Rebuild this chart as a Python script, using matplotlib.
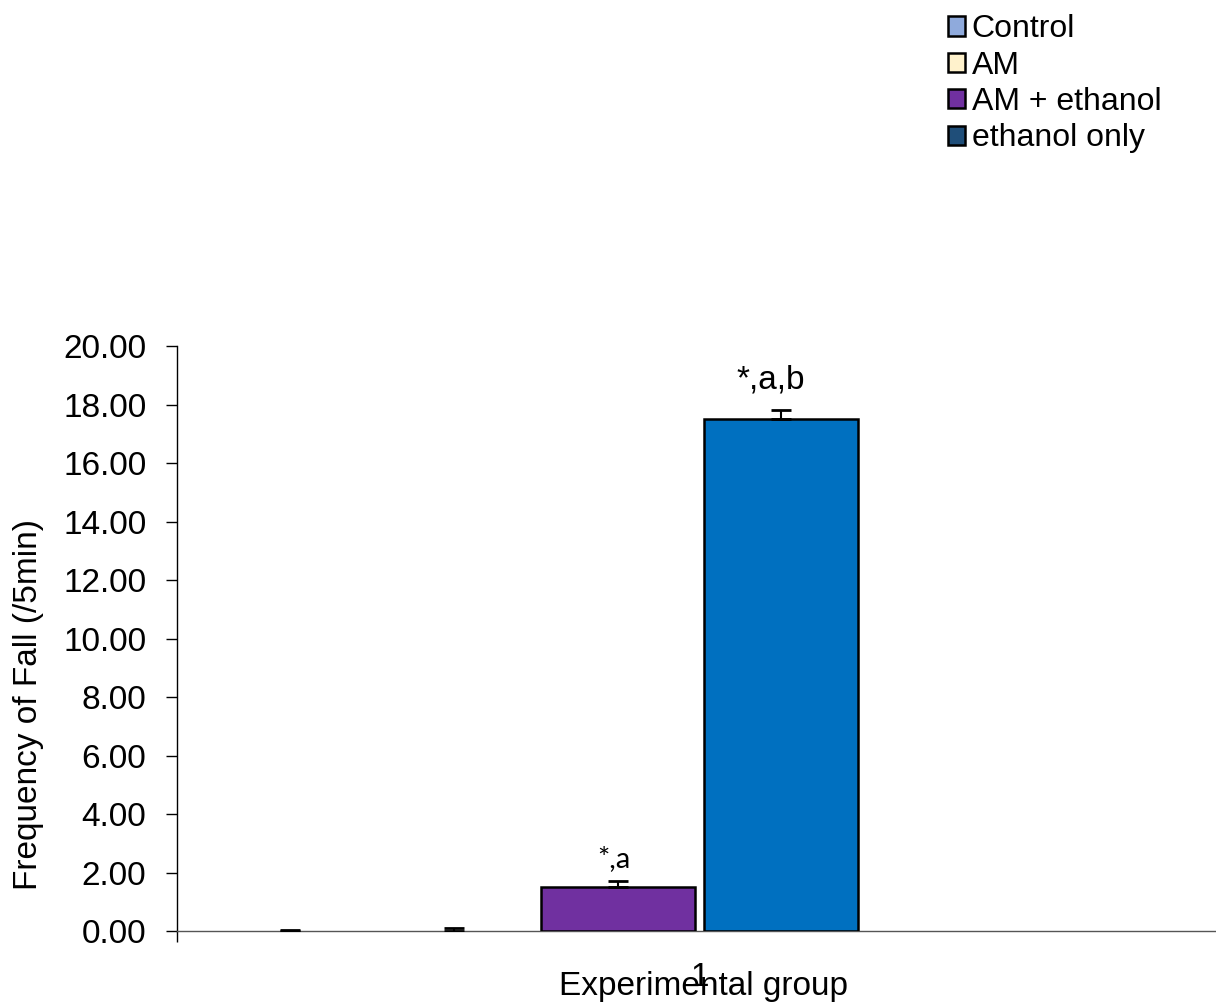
import matplotlib.pyplot as plt
from matplotlib.patches import Patch

# groups, means and SEMs
groups = ["Control", "AM", "AM + ethanol", "ethanol only"]
means = [0.0, 0.0, 1.5, 17.5]
errors = [0.03, 0.1, 0.2, 0.3]
bar_colors = ["#8FAADC", "#FFF2CC", "#7030A0", "#0070C0"]
legend_colors = ["#8FAADC", "#FFF2CC", "#7030A0", "#1F4E79"]
sig_labels = ["", "", "*,a", "*,a,b"]
yticks = [0, 2, 4, 6, 8, 10, 12, 14, 16, 18, 20]

plt.rcParams["font.family"] = ["Liberation Sans", "DejaVu Sans"]

fig = plt.figure(figsize=(12.16, 10.05), dpi=100)
ax = fig.add_axes([0.1456, 0.0736, 0.8544, 0.582])

xpos = list(range(len(groups)))
# empty bars get no outline so only the axis line shows at zero
edge_w = [1.8 if m > 0 else 0 for m in means]
ax.bar(xpos, means, width=0.94, color=bar_colors, edgecolor="black", linewidth=edge_w,
       zorder=3)
# upper-only error bars
ax.errorbar(xpos, means, yerr=[[0] * len(errors), errors], fmt="none", ecolor="black",
            elinewidth=1.5, capsize=7, capthick=2, zorder=4)

# significance markers above the bars
for x, m, e, s in zip(xpos, means, errors, sig_labels):
    if not s:
        continue
    if s == "*,a":
        ax.annotate(s, (x, m + e), xytext=(-3, 7), textcoords="offset points",
                    ha="center", va="bottom", fontsize=21, family=["Lato", "DejaVu Sans"])
    else:
        ax.annotate(s, (x, m + e), xytext=(-8, 11), textcoords="offset points",
                    ha="center", va="bottom", fontsize=24)

ax.set_xlim(-0.689, 5.652)
ax.set_ylim(0, 20)
ax.set_yticks(yticks)
ax.set_yticklabels([f"{v:.2f}" for v in yticks], fontsize=24)
ax.tick_params(axis="y", length=8, width=1, direction="out", pad=14)

# category tick: boundary mark on the left, label "1" in the middle
ax.set_xticks([-0.689])
ax.set_xticklabels([""])
ax.tick_params(axis="x", which="major", length=8, width=1, direction="out")
ax.set_xticks([2.5], minor=True)
ax.set_xticklabels(["1"], minor=True, fontsize=24)
ax.tick_params(axis="x", which="minor", length=0, pad=22)

for side in ["top", "right"]:
    ax.spines[side].set_visible(False)
ax.spines["left"].set_linewidth(1)
ax.spines["bottom"].set_linewidth(1)
ax.spines["bottom"].set_color("#555555")

ax.set_ylabel("Frequency of Fall (/5min)", fontsize=24)
ax.yaxis.set_label_coords(-0.1434, 0.388)
ax.yaxis.label.set_va("center")
ax.set_xlabel("Experimental group", fontsize=24)
ax.xaxis.set_label_coords(0.507, -0.094)
ax.xaxis.label.set_va("center")

handles = [Patch(facecolor=c, edgecolor="black", linewidth=1.8) for c in legend_colors]
fig.legend(handles, groups, loc="upper left", bbox_to_anchor=(0.761, 1.008),
           frameon=False, fontsize=23, handlelength=0.55, handleheight=0.55,
           handletextpad=0.2, labelspacing=0.2, borderaxespad=0.3)

fig.savefig("out.png", dpi=100)
